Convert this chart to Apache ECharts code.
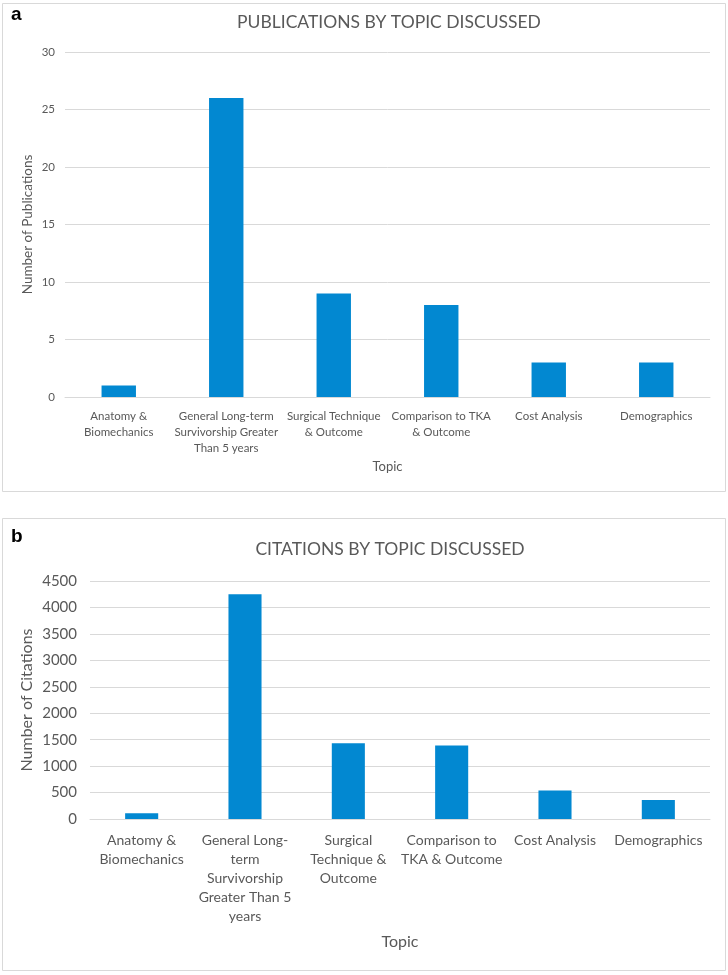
<!DOCTYPE html>
<html>
<head>
<meta charset="utf-8">
<script src="https://cdn.jsdelivr.net/npm/echarts@6/dist/echarts.min.js"></script>
<style>
  html, body { margin: 0; padding: 0; background: #fff; }
  #chart { width: 728px; height: 975px; }
</style>
</head>
<body>
<div id="chart"></div>
<script>
// topic labels (wrapped the way each panel shows them)
var topicsA = [
    'Anatomy &\nBiomechanics',
    'General Long-term\nSurvivorship Greater\nThan 5 years',
    'Surgical Technique\n& Outcome',
    'Comparison to TKA\n& Outcome',
    'Cost Analysis',
    'Demographics'
];
var topicsB = [
    'Anatomy &\nBiomechanics',
    'General Long-\nterm\nSurvivorship\nGreater Than 5\nyears',
    'Surgical\nTechnique &\nOutcome',
    'Comparison to\nTKA & Outcome',
    'Cost Analysis',
    'Demographics'
];
var publications = [1, 26, 9, 8, 3, 3];
var citations = [110, 4250, 1430, 1390, 540, 360];

var font = 'Lato, "Open Sans", sans-serif';
var grey = '#595959';
var barColor = '#0288d1';

var myChart = echarts.init(document.getElementById('chart'));

var option = {
    backgroundColor: '#fff',
    animation: false,
    title: [
        {
            text: 'PUBLICATIONS BY TOPIC DISCUSSED',
            left: 384, top: 8, textAlign: 'center',
            textStyle: { fontFamily: font, fontSize: 17.5, fontWeight: 'normal', color: grey }
        },
        {
            text: 'CITATIONS BY TOPIC DISCUSSED',
            left: 385, top: 535, textAlign: 'center',
            textStyle: { fontFamily: font, fontSize: 17.5, fontWeight: 'normal', color: grey }
        }
    ],
    graphic: [
        { type: 'rect', shape: { x: 2.5, y: 3.5, width: 723, height: 488 },
          style: { fill: 'none', stroke: '#d9d9d9', lineWidth: 1 } },
        { type: 'rect', shape: { x: 2.5, y: 518.5, width: 723, height: 452 },
          style: { fill: 'none', stroke: '#d9d9d9', lineWidth: 1 } },
        { type: 'text', left: 11, top: 5,
          style: { text: 'a', font: 'bold 19px Arial, "Liberation Sans", sans-serif', fill: '#000' } },
        { type: 'text', left: 11, top: 527,
          style: { text: 'b', font: 'bold 19px Arial, "Liberation Sans", sans-serif', fill: '#000' } }
    ],
    grid: [
        { left: 65, right: 18, top: 52, bottom: 578 },
        { left: 90, right: 18, top: 581, bottom: 156 }
    ],
    xAxis: [
        {
            gridIndex: 0,
            type: 'category',
            data: topicsA,
            name: 'Topic',
            nameLocation: 'middle',
            nameGap: 63,
            nameTextStyle: { fontFamily: font, fontSize: 13, color: grey },
            axisLine: { lineStyle: { color: '#d9d9d9' } },
            axisTick: { show: false },
            axisLabel: { fontFamily: font, fontSize: 11.5, color: grey, lineHeight: 16, margin: 11, interval: 0 }
        },
        {
            gridIndex: 1,
            type: 'category',
            data: topicsB,
            name: 'Topic',
            nameLocation: 'middle',
            nameGap: 115,
            nameTextStyle: { fontFamily: font, fontSize: 16, color: grey },
            axisLine: { lineStyle: { color: '#d9d9d9' } },
            axisTick: { show: false },
            axisLabel: { fontFamily: font, fontSize: 14, color: grey, lineHeight: 19, margin: 12, interval: 0 }
        }
    ],
    yAxis: [
        {
            gridIndex: 0,
            type: 'value',
            min: 0, max: 30, interval: 5,
            name: 'Number of Publications',
            nameLocation: 'middle',
            nameGap: 30,
            nameMoveOverlap: false,
            nameTextStyle: { fontFamily: font, fontSize: 13.5, color: grey },
            axisLine: { show: false },
            axisTick: { show: false },
            axisLabel: { fontFamily: font, fontSize: 11.5, color: grey, margin: 10 },
            splitLine: { lineStyle: { color: '#d9d9d9' } }
        },
        {
            gridIndex: 1,
            type: 'value',
            min: 0, max: 4500, interval: 500,
            name: 'Number of Citations',
            nameLocation: 'middle',
            nameGap: 55,
            nameMoveOverlap: false,
            nameTextStyle: { fontFamily: font, fontSize: 16, color: grey },
            axisLine: { show: false },
            axisTick: { show: false },
            axisLabel: {
                fontFamily: font, fontSize: 15, color: grey, margin: 13,
                formatter: function (v) { return String(v); }
            },
            splitLine: { lineStyle: { color: '#d9d9d9' } }
        }
    ],
    series: [
        {
            type: 'bar',
            xAxisIndex: 0, yAxisIndex: 0,
            data: publications,
            barWidth: '32%',
            itemStyle: { color: barColor }
        },
        {
            type: 'bar',
            xAxisIndex: 1, yAxisIndex: 1,
            data: citations,
            barWidth: '32%',
            itemStyle: { color: barColor }
        }
    ]
};

myChart.setOption(option);
</script>
</body>
</html>
